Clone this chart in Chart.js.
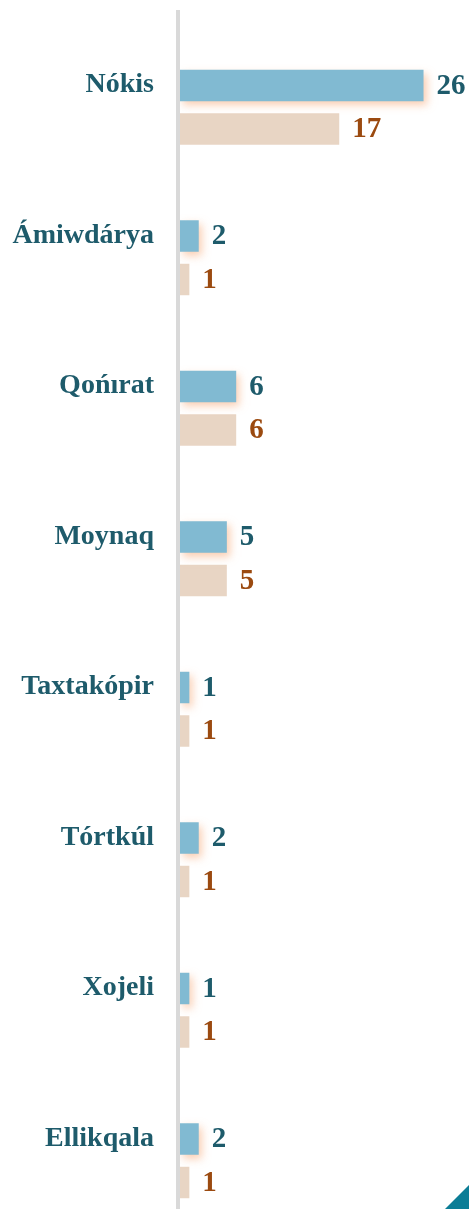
<!DOCTYPE html>
<html>
<head>
<meta charset="utf-8">
<script src="https://cdn.jsdelivr.net/npm/chart.js@4"></script>
<style>
    body { margin: 0; background: #ffffff; overflow: hidden; }
    #wrap { position: relative; width: 469px; height: 1209px; overflow: hidden; }
    #corner {
        position: absolute; right: 0; bottom: 0; width: 24px; height: 24px;
        background: #0b7d96; clip-path: polygon(100% 0, 100% 100%, 0 100%);
    }
</style>
</head>
<body>
<div id="wrap">
    <canvas id="barChart" width="469" height="1240"></canvas>
    <div id="corner"></div>
</div>
<script>
const districts = ['Nókis', 'Ámiwdárya', 'Qońırat', 'Moynaq', 'Taxtakópir', 'Tórtkúl', 'Xojeli', 'Ellikqala'];
const firstSeries = [26, 2, 6, 5, 1, 2, 1, 2];
const secondSeries = [17, 1, 6, 5, 1, 1, 1, 1];

const labelColors = ['#1e5b6b', '#9b4a10'];

// Ligne verticale de l'axe
const axisLine = {
    id: 'axisLine',
    beforeDatasetsDraw(chart) {
        const ctx = chart.ctx;
        ctx.save();
        ctx.fillStyle = '#d9d9d9';
        ctx.fillRect(chart.chartArea.left - 4, 10, 4, chart.height);
        ctx.restore();
    }
};

// Ombre douce sous les barres bleues
const barShadow = {
    id: 'barShadow',
    beforeDatasetDraw(chart, args) {
        if (args.index !== 0) return;
        const ctx = chart.ctx;
        ctx.save();
        ctx.shadowColor = 'rgba(245, 165, 115, 0.55)';
        ctx.shadowBlur = 8;
        ctx.shadowOffsetX = 3;
        ctx.shadowOffsetY = 4;
    },
    afterDatasetDraw(chart, args) {
        if (args.index !== 0) return;
        chart.ctx.restore();
    }
};

// Valeurs au bout des barres
const valueLabels = {
    id: 'valueLabels',
    afterDatasetsDraw(chart) {
        const ctx = chart.ctx;
        ctx.save();
        ctx.font = 'bold 29px "Liberation Serif", serif';
        ctx.textBaseline = 'middle';
        ctx.textAlign = 'left';
        chart.data.datasets.forEach((ds, i) => {
            const meta = chart.getDatasetMeta(i);
            ctx.fillStyle = labelColors[i];
            meta.data.forEach((bar, j) => {
                ctx.fillText(ds.data[j], bar.x + 13, bar.y + 1);
            });
        });
        ctx.restore();
    }
};

const ctx = document.getElementById('barChart').getContext('2d');
new Chart(ctx, {
    type: 'bar',
    data: {
        labels: districts,
        datasets: [{
            data: firstSeries,
            backgroundColor: '#81bad2',
            borderWidth: 0,
            categoryPercentage: 0.578,
            barPercentage: 0.724
        }, {
            data: secondSeries,
            backgroundColor: '#e8d5c4',
            borderWidth: 0,
            categoryPercentage: 0.578,
            barPercentage: 0.724
        }]
    },
    options: {
        indexAxis: 'y',
        responsive: false,
        animation: false,
        layout: {
            padding: { top: 32, bottom: 4, right: 8, left: 0 }
        },
        plugins: {
            legend: { display: false },
            tooltip: { enabled: false }
        },
        scales: {
            x: {
                display: false,
                min: 0,
                max: 30
            },
            y: {
                grid: { display: false, drawTicks: false },
                border: { display: false },
                afterFit(scale) {
                    scale.width = 180;
                    scale.paddingTop = 0;
                    scale.paddingBottom = 0;
                },
                ticks: {
                    padding: 26,
                    labelOffset: -22,
                    color: '#1e5b6b',
                    font: { family: '"Liberation Serif", serif', size: 28, weight: 'bold' }
                }
            }
        }
    },
    plugins: [axisLine, barShadow, valueLabels]
});
</script>
</body>
</html>
